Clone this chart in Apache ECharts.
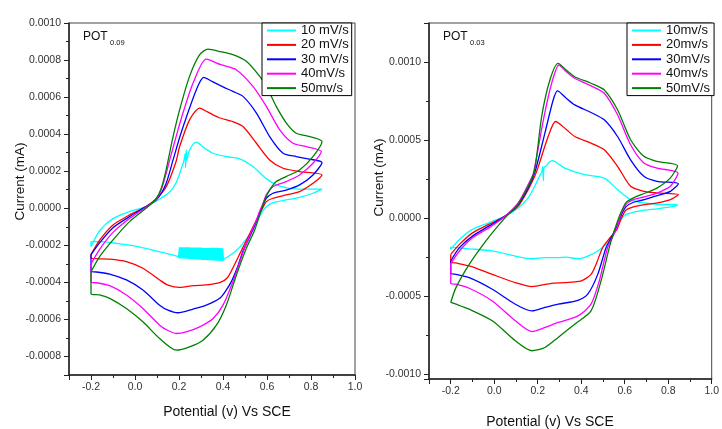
<!DOCTYPE html>
<html>
<head>
<meta charset="utf-8">
<script src="https://cdn.jsdelivr.net/npm/echarts@6/dist/echarts.min.js"></script>
<style>
  html, body { margin: 0; padding: 0; background: #fff; }
  #chart { width: 722px; height: 429px; }
</style>
</head>
<body>
<div id="chart"></div>
<script>
// Cyclic voltammograms of two POT films at five scan rates.
// Each curve: [potential (V vs SCE), current (mA)], forward sweep -0.2 -> 0.85 V, then back.

const panelTitles = ['POT', 'POT'];
const panelSubs = ['0.09', '0.03'];
const xAxisTitle = 'Potential (v) Vs SCE';
const yAxisTitle = 'Current (mA)';
const potentialRange = [-0.3, 1.0];
const currentRange09 = [-0.0009, 0.0010];
const currentRange03 = [-0.00103, 0.00125];

const names09 = ['10 mV/s', '20 mV/s', '30 mV/s', '40mV/s', '50mv/s'];
const names03 = ['10mv/s', '20mv/s', '30mV/s', '40mv/s', '50mV/s'];
const colors = ['#00ffff', '#ff0000', '#0000ff', '#ff00ff', '#008000'];

// ---- POT 0.09 ----
const pot09_10 = [
  [-0.2,-2.07e-4],[-0.16,-1.2e-4],[-0.1,-0.56e-4],[-0.025,-0.18e-4],[0.05,0.09e-4],[0.112,0.5e-4],
  [0.156,0.85e-4],[0.188,1.4e-4],[0.215,2.3e-4],[0.222,2.55e-4],[0.228,2.95e-4],[0.23,2.2e-4],
  [0.233,3.15e-4],[0.236,2.6e-4],[0.245,3.05e-4],[0.26,3.4e-4],[0.279,3.57e-4],[0.31,3.3e-4],
  [0.355,2.97e-4],[0.42,2.78e-4],[0.476,2.67e-4],[0.536,2.25e-4],[0.597,1.6e-4],[0.658,1.2e-4],
  [0.748,1.03e-4],[0.85,1.03e-4],
  [0.809,0.81e-4],[0.748,0.59e-4],[0.687,0.45e-4],[0.627,0.3e-4],[0.59,0],[0.566,-0.45e-4],
  [0.536,-1.17e-4],[0.5,-1.75e-4],[0.476,-2.1e-4],[0.445,-2.43e-4],[0.415,-2.67e-4],[0.4,-2.72e-4],
  [0.3,-2.68e-4],[0.2,-2.61e-4],[0.142,-2.43e-4],[0.067,-2.22e-4],[-0.009,-2.02e-4],[-0.085,-1.89e-4],
  [-0.161,-1.8e-4],[-0.2,-1.8e-4],[-0.2,-2.07e-4]
];
// noisy stretch of the 10 mV/s reverse sweep
const pot09_10noise = [
  [0.400,-2.84e-4],[0.395,-2.16e-4],[0.390,-2.84e-4],[0.385,-2.15e-4],[0.380,-2.83e-4],[0.375,-2.14e-4],
  [0.370,-2.83e-4],[0.365,-2.14e-4],[0.360,-2.82e-4],[0.355,-2.14e-4],[0.350,-2.81e-4],[0.345,-2.14e-4],
  [0.340,-2.80e-4],[0.335,-2.15e-4],[0.330,-2.80e-4],[0.325,-2.15e-4],[0.320,-2.79e-4],[0.315,-2.15e-4],
  [0.310,-2.78e-4],[0.305,-2.14e-4],[0.300,-2.77e-4],[0.295,-2.13e-4],[0.290,-2.76e-4],[0.285,-2.13e-4],
  [0.280,-2.76e-4],[0.275,-2.12e-4],[0.270,-2.75e-4],[0.265,-2.12e-4],[0.260,-2.74e-4],[0.255,-2.12e-4],
  [0.250,-2.73e-4],[0.245,-2.11e-4],[0.240,-2.72e-4],[0.235,-2.11e-4],[0.230,-2.72e-4],[0.225,-2.11e-4],
  [0.220,-2.71e-4],[0.215,-2.11e-4],[0.210,-2.70e-4],[0.205,-2.11e-4],[0.200,-2.70e-4]
];
const pot09_20 = [
  [-0.2,-2.5e-4],[-0.16,-1.71e-4],[-0.1,-0.9e-4],[-0.025,-0.36e-4],[0.05,0.09e-4],[0.095,0.5e-4],
  [0.142,1.17e-4],[0.186,2.5e-4],[0.203,3.33e-4],[0.248,4.77e-4],[0.294,5.41e-4],[0.33,5.2e-4],
  [0.38,4.9e-4],[0.445,4.68e-4],[0.491,4.41e-4],[0.552,3.51e-4],[0.612,2.61e-4],[0.673,2.16e-4],
  [0.748,1.98e-4],[0.85,1.8e-4],
  [0.809,1.35e-4],[0.748,0.9e-4],[0.687,0.72e-4],[0.627,0.54e-4],[0.597,0.36e-4],[0.58,0],
  [0.56,-0.45e-4],[0.52,-1.4e-4],[0.483,-2.3e-4],[0.45,-3.1e-4],[0.42,-3.75e-4],[0.385,-4.02e-4],
  [0.324,-4.14e-4],[0.264,-4.18e-4],[0.203,-4.27e-4],[0.15,-4.15e-4],[0.112,-3.87e-4],[0.036,-3.24e-4],
  [-0.039,-2.88e-4],[-0.115,-2.74e-4],[-0.2,-2.7e-4],[-0.2,-2.5e-4]
];
const pot09_30 = [
  [-0.2,-2.5e-4],[-0.16,-1.85e-4],[-0.1,-1.05e-4],[-0.025,-0.45e-4],[0.05,0.09e-4],[0.097,0.45e-4],
  [0.14,1.3e-4],[0.173,2.61e-4],[0.205,3.9e-4],[0.233,4.9e-4],[0.279,6.4e-4],[0.312,7.06e-4],
  [0.35,6.85e-4],[0.4,6.55e-4],[0.445,6.31e-4],[0.491,6.04e-4],[0.552,5.14e-4],[0.612,3.87e-4],
  [0.673,2.97e-4],[0.733,2.79e-4],[0.794,2.65e-4],[0.85,2.47e-4],
  [0.809,1.8e-4],[0.748,1.26e-4],[0.687,0.98e-4],[0.627,0.81e-4],[0.597,0.54e-4],[0.582,0.18e-4],
  [0.566,-0.27e-4],[0.545,-0.9e-4],[0.515,-1.7e-4],[0.491,-2.3e-4],[0.465,-3.2e-4],[0.438,-3.96e-4],
  [0.41,-4.5e-4],[0.385,-4.86e-4],[0.324,-5.23e-4],[0.264,-5.44e-4],[0.195,-5.64e-4],[0.15,-5.5e-4],
  [0.112,-5.23e-4],[0.036,-4.41e-4],[-0.039,-3.87e-4],[-0.115,-3.55e-4],[-0.176,-3.44e-4],
  [-0.2,-3.42e-4],[-0.2,-2.5e-4]
];
const pot09_40 = [
  [-0.2,-3.0e-4],[-0.16,-2.2e-4],[-0.1,-1.3e-4],[-0.025,-0.55e-4],[0.05,0.05e-4],[0.095,0.45e-4],
  [0.125,1.2e-4],[0.158,2.61e-4],[0.19,4.0e-4],[0.218,5.14e-4],[0.264,6.76e-4],[0.324,8.05e-4],
  [0.39,7.75e-4],[0.46,7.48e-4],[0.536,6.58e-4],[0.597,5.5e-4],[0.658,4.23e-4],[0.718,3.51e-4],
  [0.779,3.33e-4],[0.847,3.06e-4],
  [0.809,2.43e-4],[0.748,1.8e-4],[0.687,1.44e-4],[0.627,1.17e-4],[0.597,0.72e-4],[0.582,0.27e-4],
  [0.566,-0.18e-4],[0.55,-0.7e-4],[0.52,-1.5e-4],[0.498,-2.16e-4],[0.47,-3.1e-4],[0.445,-3.96e-4],
  [0.4,-5.23e-4],[0.355,-5.95e-4],[0.294,-6.4e-4],[0.233,-6.67e-4],[0.188,-6.76e-4],[0.15,-6.6e-4],
  [0.112,-6.31e-4],[0.036,-5.41e-4],[-0.039,-4.68e-4],[-0.115,-4.18e-4],[-0.176,-4.02e-4],
  [-0.2,-4.0e-4],[-0.2,-3.0e-4]
];
const pot09_50 = [
  [-0.2,-3.43e-4],[-0.16,-2.6e-4],[-0.1,-1.71e-4],[-0.025,-0.72e-4],[0.05,0],[0.095,0.5e-4],
  [0.12,1.1e-4],[0.142,2.1e-4],[0.17,3.7e-4],[0.203,5.32e-4],[0.248,7.12e-4],[0.294,8.29e-4],
  [0.332,8.59e-4],[0.39,8.45e-4],[0.445,8.29e-4],[0.506,7.93e-4],[0.567,7.12e-4],[0.597,6.58e-4],
  [0.642,5.5e-4],[0.688,4.6e-4],[0.733,4.05e-4],[0.794,3.87e-4],[0.85,3.6e-4],
  [0.809,2.79e-4],[0.748,2.07e-4],[0.687,1.71e-4],[0.642,1.44e-4],[0.612,0.98e-4],[0.589,0.45e-4],
  [0.574,-0.09e-4],[0.544,-1.17e-4],[0.506,-2.16e-4],[0.461,-3.6e-4],[0.415,-5.23e-4],[0.37,-6.31e-4],
  [0.309,-7.12e-4],[0.248,-7.48e-4],[0.188,-7.66e-4],[0.112,-7.03e-4],[0.036,-6.13e-4],
  [-0.039,-5.41e-4],[-0.115,-4.86e-4],[-0.161,-4.68e-4],[-0.2,-4.61e-4],[-0.2,-3.43e-4]
];

// ---- POT 0.03 ----
const pot03_10 = [
  [-0.2,-2.0e-4],[-0.16,-1.36e-4],[-0.1,-0.72e-4],[-0.025,-0.3e-4],[0.05,0.13e-4],[0.11,0.66e-4],
  [0.156,1.3e-4],[0.186,2.04e-4],[0.21,2.75e-4],[0.218,2.95e-4],[0.223,3.3e-4],[0.226,2.4e-4],
  [0.229,3.25e-4],[0.24,3.35e-4],[0.25,3.55e-4],[0.267,3.68e-4],[0.324,3.21e-4],[0.415,2.79e-4],
  [0.506,2.57e-4],[0.567,1.83e-4],[0.627,1.19e-4],[0.688,0.98e-4],[0.748,0.89e-4],[0.845,0.85e-4],
  [0.81,0.72e-4],[0.75,0.6e-4],[0.69,0.51e-4],[0.64,0.38e-4],[0.605,0.23e-4],[0.582,-0.09e-4],
  [0.552,-0.94e-4],[0.52,-1.6e-4],[0.476,-2.1e-4],[0.43,-2.43e-4],[0.385,-2.6e-4],[0.33,-2.5e-4],
  [0.294,-2.53e-4],[0.233,-2.53e-4],[0.173,-2.6e-4],[0.097,-2.43e-4],[-0.009,-2.1e-4],
  [-0.115,-1.96e-4],[-0.176,-1.89e-4],[-0.2,-1.85e-4],[-0.2,-2.0e-4]
];
const pot03_20 = [
  [-0.2,-2.32e-4],[-0.16,-1.68e-4],[-0.1,-0.94e-4],[-0.025,-0.4e-4],[0.05,0.13e-4],[0.11,0.77e-4],
  [0.156,1.83e-4],[0.186,2.68e-4],[0.203,3.32e-4],[0.248,5.23e-4],[0.282,6.19e-4],[0.33,5.7e-4],
  [0.37,5.23e-4],[0.445,4.81e-4],[0.506,4.38e-4],[0.567,3.32e-4],[0.627,2.04e-4],[0.688,1.72e-4],
  [0.748,1.62e-4],[0.847,1.51e-4],
  [0.81,1.19e-4],[0.75,0.98e-4],[0.69,0.87e-4],[0.64,0.72e-4],[0.605,0.51e-4],[0.582,-0.09e-4],
  [0.564,-0.72e-4],[0.53,-1.3e-4],[0.498,-1.89e-4],[0.47,-2.9e-4],[0.445,-3.6e-4],[0.4,-4.02e-4],
  [0.324,-4.13e-4],[0.264,-4.17e-4],[0.173,-4.38e-4],[0.097,-4.13e-4],[-0.009,-3.6e-4],
  [-0.115,-3.06e-4],[-0.176,-2.87e-4],[-0.2,-2.81e-4],[-0.2,-2.32e-4]
];
const pot03_30 = [
  [-0.2,-2.74e-4],[-0.16,-1.89e-4],[-0.1,-1.15e-4],[-0.025,-0.51e-4],[0.05,0.13e-4],[0.11,0.87e-4],
  [0.156,1.94e-4],[0.188,3.0e-4],[0.233,5.45e-4],[0.271,7.57e-4],[0.291,8.15e-4],[0.33,7.7e-4],
  [0.37,7.26e-4],[0.445,6.77e-4],[0.506,6.3e-4],[0.567,5.23e-4],[0.627,3.74e-4],[0.688,2.68e-4],
  [0.748,2.36e-4],[0.847,2.21e-4],
  [0.81,1.72e-4],[0.75,1.45e-4],[0.69,1.19e-4],[0.64,1.02e-4],[0.605,0.72e-4],[0.582,0.13e-4],
  [0.564,-0.51e-4],[0.54,-1.2e-4],[0.514,-1.89e-4],[0.476,-3.6e-4],[0.43,-4.87e-4],[0.385,-5.26e-4],
  [0.294,-5.51e-4],[0.233,-5.72e-4],[0.173,-5.94e-4],[0.097,-5.51e-4],[-0.009,-4.55e-4],
  [-0.115,-3.81e-4],[-0.176,-3.6e-4],[-0.2,-3.53e-4],[-0.2,-2.74e-4]
];
const pot03_40 = [
  [-0.2,-2.91e-4],[-0.16,-2.1e-4],[-0.1,-1.25e-4],[-0.025,-0.62e-4],[0.05,0.13e-4],[0.11,0.98e-4],
  [0.156,2.15e-4],[0.18,2.89e-4],[0.226,6.3e-4],[0.264,8.64e-4],[0.298,9.81e-4],[0.33,9.4e-4],
  [0.37,8.96e-4],[0.445,8.47e-4],[0.506,8.0e-4],[0.567,6.62e-4],[0.627,4.7e-4],[0.688,3.53e-4],
  [0.748,3.21e-4],[0.845,2.89e-4],
  [0.81,2.04e-4],[0.75,1.62e-4],[0.69,1.36e-4],[0.64,1.19e-4],[0.605,0.87e-4],[0.582,0.23e-4],
  [0.567,-0.51e-4],[0.545,-1.2e-4],[0.521,-1.89e-4],[0.483,-4.02e-4],[0.445,-5.51e-4],
  [0.385,-6.26e-4],[0.294,-6.68e-4],[0.233,-7.0e-4],[0.173,-7.26e-4],[0.097,-6.57e-4],
  [-0.009,-5.3e-4],[-0.115,-4.49e-4],[-0.176,-4.23e-4],[-0.2,-4.19e-4],[-0.2,-2.91e-4]
];
const pot03_50 = [
  [-0.2,-5.4e-4],[-0.176,-4.45e-4],[-0.115,-2.96e-4],[-0.039,-1.47e-4],[0.036,-0.19e-4],[0.082,0.5e-4],
  [0.11,0.9e-4],[0.156,2.04e-4],[0.186,3.1e-4],[0.218,6.51e-4],[0.256,8.85e-4],[0.294,9.91e-4],
  [0.33,9.5e-4],[0.37,9.06e-4],[0.445,8.64e-4],[0.506,8.21e-4],[0.567,6.94e-4],[0.627,5.02e-4],
  [0.688,3.96e-4],[0.748,3.64e-4],[0.843,3.36e-4],
  [0.81,2.58e-4],[0.75,1.94e-4],[0.69,1.58e-4],[0.64,1.3e-4],[0.605,0.98e-4],[0.582,0.34e-4],
  [0.559,-0.51e-4],[0.545,-1.1e-4],[0.529,-1.89e-4],[0.491,-4.02e-4],[0.445,-5.94e-4],
  [0.37,-6.79e-4],[0.294,-7.64e-4],[0.233,-8.28e-4],[0.173,-8.49e-4],[0.097,-7.85e-4],
  [-0.009,-6.57e-4],[-0.115,-5.83e-4],[-0.176,-5.51e-4],[-0.2,-5.4e-4]
];

const curves09 = [pot09_10, pot09_20, pot09_30, pot09_40, pot09_50];
const curves03 = [pot03_10, pot03_20, pot03_30, pot03_40, pot03_50];

const FONT = '"Liberation Sans", Arial, Helvetica, sans-serif';
const AXIS_COLOR = '#222';

function fmt(v, digits) {
  if (Math.abs(v) < 1e-12) v = 0;
  return v.toFixed(digits);
}

function xAxisFor(gridIndex) {
  return {
    type: 'value', gridIndex,
    min: potentialRange[0], max: potentialRange[1], splitNumber: 7,
    axisLine: { show: true, onZero: false, lineStyle: { color: AXIS_COLOR, width: 1.5 } },
    axisTick: { show: true, length: 5, lineStyle: { color: AXIS_COLOR, width: 1 } },
    minorTick: { show: true, splitNumber: 2, length: 3, lineStyle: { color: AXIS_COLOR, width: 1 } },
    splitLine: { show: false },
    axisLabel: {
      showMinLabel: false, margin: 7, color: '#333', fontSize: 10.5, fontFamily: FONT,
      formatter: v => fmt(v, 1)
    }
  };
}

function yAxisFor(gridIndex, range, splitNumber) {
  return {
    type: 'value', gridIndex,
    min: range[0], max: range[1], splitNumber,
    axisLine: { show: true, onZero: false, lineStyle: { color: AXIS_COLOR, width: 1.5 } },
    axisTick: { show: true, length: 5, lineStyle: { color: AXIS_COLOR, width: 1 } },
    minorTick: { show: true, splitNumber: 2, length: 3, lineStyle: { color: AXIS_COLOR, width: 1 } },
    splitLine: { show: false },
    axisLabel: {
      showMinLabel: false, showMaxLabel: range[1] === 0.0010, margin: 8,
      color: '#333', fontSize: 10.5, fontFamily: FONT,
      formatter: v => fmt(v, 4)
    }
  };
}

function legendFor(names, left, padding) {
  return {
    orient: 'vertical', left, top: 23,
    data: names, icon: 'rect', itemWidth: 29, itemHeight: 2, itemGap: 1.4,
    padding, backgroundColor: '#fff', borderColor: '#000', borderWidth: 1,
    selectedMode: false,
    textStyle: { fontSize: 13, lineHeight: 13, color: '#111', fontFamily: FONT }
  };
}

const series = [];
curves09.forEach((data, i) => {
  series.push({
    type: 'line', name: names09[i], xAxisIndex: 0, yAxisIndex: 0, data,
    showSymbol: false, smooth: 0.25, color: colors[i],
    lineStyle: { color: colors[i], width: 1.3 }
  });
});
series.push({
  type: 'line', name: names09[0], xAxisIndex: 0, yAxisIndex: 0, data: pot09_10noise,
  showSymbol: false, smooth: false, color: colors[0],
  lineStyle: { color: colors[0], width: 2.6 }
});
curves03.forEach((data, i) => {
  series.push({
    type: 'line', name: names03[i], xAxisIndex: 1, yAxisIndex: 1, data,
    showSymbol: false, smooth: 0.25, color: colors[i],
    lineStyle: { color: colors[i], width: 1.3 }
  });
});

function label(text, x, y, size) {
  return {
    type: 'text', x, y,
    style: { text, fill: '#111', font: size + 'px ' + FONT, align: 'left', verticalAlign: 'top' }
  };
}

const chart = echarts.init(document.getElementById('chart'), null, { renderer: 'canvas' });
chart.setOption({
  animation: false,
  backgroundColor: '#fff',
  grid: [
    { left: 69, top: 23, width: 286, height: 352, show: true, borderColor: '#444', borderWidth: 1 },
    { left: 429, top: 23, width: 286, height: 356, show: true, borderColor: '#444', borderWidth: 1 }
  ],
  xAxis: [xAxisFor(0), xAxisFor(1)],
  yAxis: [yAxisFor(0, currentRange09, 10), yAxisFor(1, currentRange03, 5)],
  legend: [legendFor(names09, 262, [1, 3, 1, 5]), legendFor(names03, 627, [1, 4, 1, 5])],
  series,
  graphic: [
    label(panelTitles[0], 83, 31, 12),
    label(panelSubs[0], 110, 38.5, 7.5),
    label(panelTitles[1], 443, 31, 12),
    label(panelSubs[1], 470, 38.5, 7.5),
    { type: 'text', x: 20, y: 181.5, rotation: Math.PI / 2,
      style: { text: yAxisTitle, fill: '#111', font: '13.5px ' + FONT, align: 'center', verticalAlign: 'middle' } },
    { type: 'text', x: 379, y: 177.5, rotation: Math.PI / 2,
      style: { text: yAxisTitle, fill: '#111', font: '13.5px ' + FONT, align: 'center', verticalAlign: 'middle' } },
    { type: 'text', x: 227, y: 411.7,
      style: { text: xAxisTitle, fill: '#111', font: '14px ' + FONT, align: 'center', verticalAlign: 'middle' } },
    { type: 'text', x: 550, y: 422.5,
      style: { text: xAxisTitle, fill: '#111', font: '14px ' + FONT, align: 'center', verticalAlign: 'middle' } }
  ]
});
</script>
</body>
</html>
